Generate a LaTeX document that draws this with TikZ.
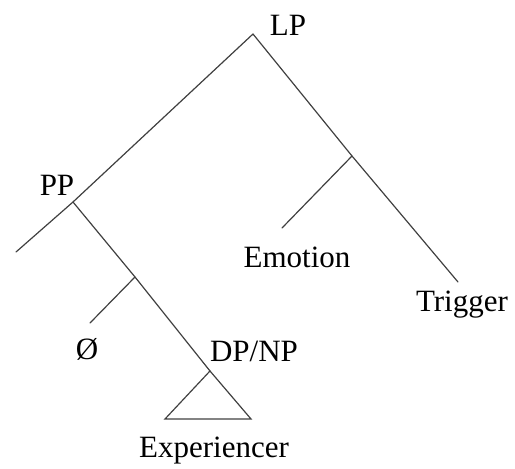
\documentclass[tikz,border=0pt]{standalone}
\usepackage{fontspec}
\setmainfont{Liberation Serif}
\usepackage{tikz}
\usetikzlibrary{positioning}

\begin{document}
\begin{tikzpicture}[
    x=1pt, y=-1pt,
    every node/.style={font=\fontsize{31}{31}\selectfont},
    cat/.style={
        anchor=base,
        inner sep=0pt
    },
    branch/.style={line width=1.2pt, draw=black!75, line cap=round}
]

\useasboundingbox (0,0) rectangle (515,469);

\coordinate (lp) at (253,34);
\coordinate (pp) at (73,202);
\coordinate (ppfoot) at (16,252);
\coordinate (emo) at (352,156);
\coordinate (emofoot) at (282,228);
\coordinate (trigfoot) at (458,282);
\coordinate (nul) at (135,277);
\coordinate (nulfoot) at (90,323);
\coordinate (dp) at (210,371);
\coordinate (triright) at (251,419);
\coordinate (trileft) at (165,419);

\node[cat] (lplabel) at (288,35) {LP};
\node[cat] (pplabel) at (57,195) {PP};
\node[cat] (emolabel) at (297,267) {Emotion};
\node[cat] (triglabel) at (462,311) {Trigger};
\node[cat] (nullabel) at (87,359) {Ø};
\node[cat] (dplabel) at (254,361) {DP/NP};
\node[cat] (explabel) at (214,457) {Experiencer};

\draw[branch] (lp) -- (pp) -- (ppfoot);
\draw[branch] (lp) -- (emo) -- (trigfoot);
\draw[branch] (emo) -- (emofoot);
\draw[branch] (pp) -- (nul) -- (dp);
\draw[branch] (nul) -- (nulfoot);
\draw[branch] (dp) -- (triright) -- (trileft) -- cycle;

\end{tikzpicture}
\end{document}
